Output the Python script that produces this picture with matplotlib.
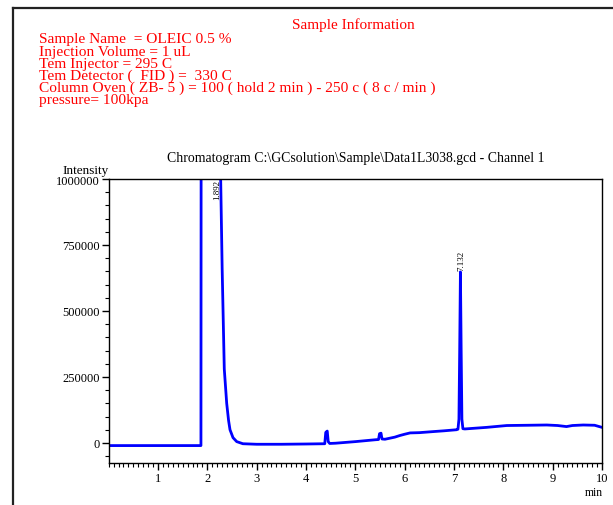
import matplotlib
matplotlib.use('Agg')
import matplotlib.pyplot as plt
from matplotlib.lines import Line2D
from matplotlib.ticker import MultipleLocator, FuncFormatter

plt.rcParams['font.family'] = ['Liberation Serif', 'DejaVu Serif']

# sample info header
info_title = 'Sample Information'
info_lines = [
    'Sample Name  = OLEIC 0.5 %',
    'Injection Volume = 1 uL',
    'Tem Injector = 295 C',
    'Tem Detector (  FID ) =  330 C',
    'Column Oven ( ZB- 5 ) = 100 ( hold 2 min ) - 250 c ( 8 c / min )',
    'pressure= 100kpa',
]
chrom_title = 'Chromatogram C:\\GCsolution\\Sample\\Data1L3038.gcd - Channel 1'

# chromatogram trace (min, intensity)
time_min = [0.0, 0.5, 1.0, 1.5, 1.87, 1.88, 2.05, 2.26, 2.27, 2.30, 2.343,
            2.392, 2.43, 2.459, 2.52, 2.595, 2.72, 3.0, 3.5, 4.0, 4.38, 4.40,
            4.43, 4.45, 4.48, 4.6, 5.0, 5.4, 5.47, 5.49, 5.52, 5.54, 5.6, 5.8,
            5.9, 6.0, 6.11, 6.3, 6.58, 6.8, 7.05, 7.08, 7.10, 7.115, 7.13,
            7.145, 7.16, 7.18, 7.22, 7.66, 8.07, 8.5, 8.88, 9.1, 9.28, 9.4,
            9.62, 9.85, 10.0]
intensity = [-10000, -10000, -10000, -10000, -10000, 3000000, 3000000, 1200000,
             1000000, 660000, 280000, 150000, 85000, 50000, 20000, 5000, -3000,
             -5000, -5000, -4000, -3000, 40000, 45000, 5000, -2000, -1000, 5000,
             12000, 13000, 35000, 37000, 15000, 14000, 22000, 28000, 33000,
             38000, 39000, 43000, 46000, 50000, 52000, 90000, 350000, 648000,
             350000, 90000, 54000, 53000, 59000, 66000, 67000, 68000, 66000,
             62000, 66000, 68000, 67000, 59000]

peak_labels = ['1.892', '7.132']
peak_label_x = [2.2, 7.15]
peak_label_y = [1000000, 655000]
peak_label_va = ['top', 'bottom']

fig = plt.figure(figsize=(6.13, 5.06), dpi=100)

# outer frame (top and left edges)
fig.add_artist(Line2D([13 / 613, 1.0], [1 - 9 / 506, 1 - 9 / 506],
                      transform=fig.transFigure, color='#222222', lw=1.6))
fig.add_artist(Line2D([13 / 613, 13 / 613], [1 - 9 / 506, 0.0],
                      transform=fig.transFigure, color='#222222', lw=1.6))

red = '#ff0000'
fig.text(353 / 613, 1 - 29.5 / 506, info_title, color=red, fontsize=11,
         ha='center', va='baseline')
for i, line in enumerate(info_lines):
    fig.text(39 / 613, 1 - (43.5 + 12.1 * i) / 506, line, color=red,
             fontsize=11.1, ha='left', va='baseline')

ax = fig.add_axes([108.7 / 613, 1 - 464 / 506, (602 - 108.7) / 613, (464 - 180) / 506])
ax.plot(time_min, intensity, color='#0000ff', lw=2.0, solid_joinstyle='round')

ax.set_xlim(0, 10)
ax.set_ylim(-76000, 1000000)
ax.xaxis.set_major_locator(MultipleLocator(1))
ax.xaxis.set_minor_locator(MultipleLocator(0.1))
ax.yaxis.set_major_locator(MultipleLocator(250000))
ax.yaxis.set_minor_locator(MultipleLocator(50000))
ax.yaxis.set_major_formatter(FuncFormatter(lambda v, p: f'{int(round(v))}'))
ax.set_xticks(range(1, 11))
ax.tick_params(which='major', direction='out', length=5, width=1, labelsize=9, pad=1.5)
ax.tick_params(which='minor', direction='out', length=3, width=0.8)
for s in ax.spines.values():
    s.set_linewidth(1.0)

ax.set_title(chrom_title, fontsize=9.9, pad=13)

for lab, x, y, va in zip(peak_labels, peak_label_x, peak_label_y, peak_label_va):
    ax.text(x, y, lab, rotation=90, fontsize=6.5, ha='center', va=va)

fig.text(109 / 613, 1 - 171 / 506, 'Intensity', fontsize=9.5, ha='right', va='center')
fig.text(603 / 613, 1 - 493 / 506, 'min', fontsize=8.5, ha='right', va='center')

fig.savefig('out.png', dpi=100)
